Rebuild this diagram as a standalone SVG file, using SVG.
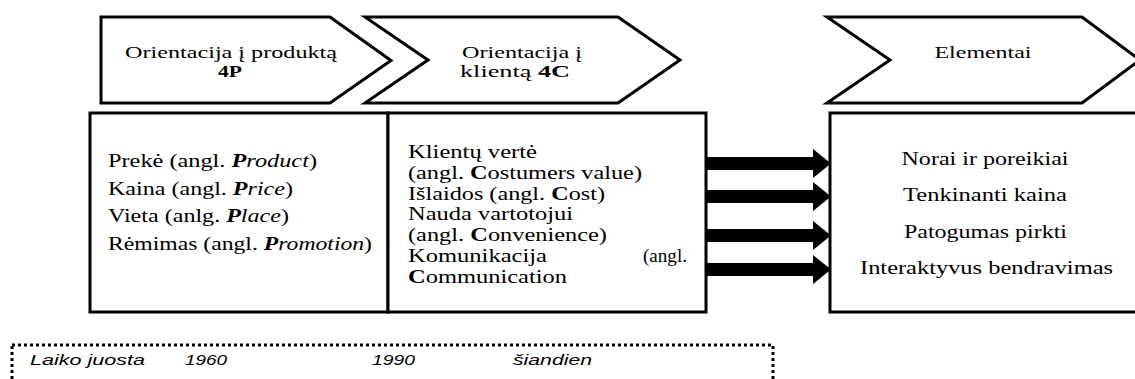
<svg xmlns="http://www.w3.org/2000/svg" width="1135" height="379" viewBox="0 0 1135 379">
<style>
.shape{fill:#fff;stroke:#000;stroke-width:3;stroke-linejoin:miter}
.t{font-family:"Liberation Serif","Times New Roman",serif;font-size:19px;fill:#000}
.h{font-size:17.5px}
.b{font-weight:bold}
.bi{font-weight:bold;font-style:italic}
.i{font-style:italic}
.tl{font-family:"Liberation Sans",Arial,sans-serif;font-size:14px;font-style:italic;fill:#000}
.arrow{stroke:#000;stroke-width:13;fill:none}
</style>
<defs>
<marker id="head" markerUnits="userSpaceOnUse" markerWidth="18" markerHeight="29" viewBox="0 0 18 29" refX="0" refY="14.5" orient="auto">
<path d="M0,0 L18,14.5 L0,29 Z" fill="#000"/>
</marker>
</defs>
<rect width="1135" height="379" fill="#fff"/>

<g id="header-4p">
<polygon class="shape" points="101,17 330,17 391,60.5 330,103 101,103"/>
<text class="t h" x="231" y="58" text-anchor="middle" textLength="212" lengthAdjust="spacingAndGlyphs">Orientacija į produktą</text>
<text class="t h b" x="230" y="77" text-anchor="middle" textLength="24" lengthAdjust="spacingAndGlyphs">4P</text>
</g>

<g id="header-4c">
<polygon class="shape" points="365,17 618,17 680,60 618,103 365,103 428,60"/>
<text class="t h" x="462" y="58" textLength="120" lengthAdjust="spacingAndGlyphs">Orientacija į</text>
<text class="t h" x="460" y="77" textLength="110" lengthAdjust="spacingAndGlyphs">klientą <tspan class="b">4C</tspan></text>
</g>

<g id="header-elementai">
<polygon class="shape" points="827,17 1082,17 1140,60 1082,103 827,103 890,60"/>
<text class="t h" x="983" y="58" text-anchor="middle" textLength="97" lengthAdjust="spacingAndGlyphs">Elementai</text>
</g>

<g id="box-4p">
<rect class="shape" x="90" y="113" width="298" height="199"/>
<text class="t" x="108" y="167" textLength="209" lengthAdjust="spacingAndGlyphs">Prekė (angl. <tspan class="bi">P</tspan><tspan class="i">roduct</tspan>)</text>
<text class="t" x="108" y="194.5" textLength="185" lengthAdjust="spacingAndGlyphs">Kaina (angl. <tspan class="bi">P</tspan><tspan class="i">rice</tspan>)</text>
<text class="t" x="108" y="222" textLength="181" lengthAdjust="spacingAndGlyphs">Vieta (anlg. <tspan class="bi">P</tspan><tspan class="i">lace</tspan>)</text>
<text class="t" x="108" y="249.5" textLength="264" lengthAdjust="spacingAndGlyphs">Rėmimas (angl. <tspan class="bi">P</tspan><tspan class="i">romotion</tspan>)</text>
</g>

<g id="box-4c">
<rect class="shape" x="388" y="113" width="318" height="199"/>
<text class="t" x="408" y="158" textLength="129" lengthAdjust="spacingAndGlyphs">Klientų vertė</text>
<text class="t" x="408" y="178.8" textLength="234" lengthAdjust="spacingAndGlyphs">(angl. <tspan class="b">C</tspan>ostumers value)</text>
<text class="t" x="408" y="199.6" textLength="197" lengthAdjust="spacingAndGlyphs">Išlaidos (angl. <tspan class="b">C</tspan>ost)</text>
<text class="t" x="408" y="220.4" textLength="165" lengthAdjust="spacingAndGlyphs">Nauda vartotojui</text>
<text class="t" x="408" y="241.2" textLength="199" lengthAdjust="spacingAndGlyphs">(angl. <tspan class="b">C</tspan>onvenience)</text>
<text class="t" x="408" y="262" textLength="139" lengthAdjust="spacingAndGlyphs">Komunikacija</text>
<text class="t" x="643" y="262" textLength="44" lengthAdjust="spacingAndGlyphs">(angl.</text>
<text class="t" x="408" y="282.8" textLength="159" lengthAdjust="spacingAndGlyphs"><tspan class="b">C</tspan>ommunication</text>
</g>

<g id="box-elementai">
<rect class="shape" x="830" y="113" width="310" height="199"/>
<text class="t" x="985" y="165" text-anchor="middle" textLength="167" lengthAdjust="spacingAndGlyphs">Norai ir poreikiai</text>
<text class="t" x="985" y="201" text-anchor="middle" textLength="164" lengthAdjust="spacingAndGlyphs">Tenkinanti kaina</text>
<text class="t" x="985.5" y="238" text-anchor="middle" textLength="163" lengthAdjust="spacingAndGlyphs">Patogumas pirkti</text>
<text class="t" x="986.5" y="274" text-anchor="middle" textLength="253" lengthAdjust="spacingAndGlyphs">Interaktyvus bendravimas</text>
</g>

<g id="connectors">
<line class="arrow" x1="706" y1="163.5" x2="813" y2="163.5" marker-end="url(#head)"/>
<line class="arrow" x1="706" y1="196.5" x2="813" y2="196.5" marker-end="url(#head)"/>
<line class="arrow" x1="706" y1="235.5" x2="813" y2="235.5" marker-end="url(#head)"/>
<line class="arrow" x1="706" y1="269.5" x2="813" y2="269.5" marker-end="url(#head)"/>
</g>

<g id="timeline">
<rect x="12" y="345" width="761" height="60" fill="none" stroke="#000" stroke-width="3" stroke-dasharray="3 3"/>
<text class="tl" x="30" y="365" textLength="115" lengthAdjust="spacingAndGlyphs">Laiko juosta</text>
<text class="tl" x="185" y="365" textLength="42" lengthAdjust="spacingAndGlyphs">1960</text>
<text class="tl" x="372" y="365" textLength="43" lengthAdjust="spacingAndGlyphs">1990</text>
<text class="tl" x="513" y="365" textLength="79" lengthAdjust="spacingAndGlyphs">šiandien</text>
</g>
</svg>
